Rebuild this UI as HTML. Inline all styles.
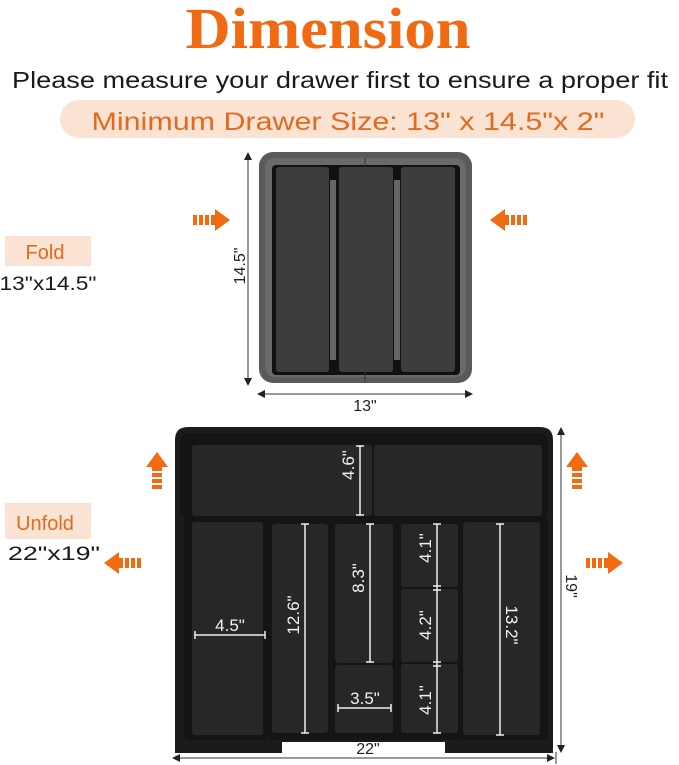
<!DOCTYPE html>
<html><head><meta charset="utf-8"><style>html,body{margin:0;padding:0;background:#fff}svg{display:block}</style></head>
<body>
<svg width="679" height="765" viewBox="0 0 679 765" xmlns="http://www.w3.org/2000/svg" font-family="Liberation Sans, sans-serif">
<defs>
<g id="ar">
<rect x="0" y="-5" width="4" height="10" fill="#f26b10"/>
<rect x="6" y="-5" width="4" height="10" fill="#f26b10"/>
<rect x="12" y="-5" width="4" height="10" fill="#f26b10"/>
<rect x="18" y="-5" width="6" height="10" fill="#f26b10"/>
<polygon points="22,-11 37,0 22,11" fill="#f26b10"/>
</g>
</defs>
<text x="328" y="48" text-anchor="middle" font-family="Liberation Serif, serif" font-weight="bold" font-size="58" fill="#f06a14" textLength="285" lengthAdjust="spacingAndGlyphs">Dimension</text>
<text x="340" y="88" text-anchor="middle" font-size="23" fill="#1a1a1a" textLength="656" lengthAdjust="spacingAndGlyphs">Please measure your drawer first to ensure a proper fit</text>
<rect x="60" y="100" width="575" height="38" rx="19" fill="#fbe3d3"/>
<text x="348" y="130" text-anchor="middle" font-size="25" fill="#e06a20" textLength="513" lengthAdjust="spacingAndGlyphs">Minimum Drawer Size: 13" x 14.5"x 2"</text>

<rect x="5" y="236" width="86" height="30" fill="#fbe3d3"/>
<text x="45" y="259" text-anchor="middle" font-size="20" fill="#e06a20">Fold</text>
<text x="48" y="290" text-anchor="middle" font-size="19" fill="#1a1a1a" textLength="97" lengthAdjust="spacingAndGlyphs">13"x14.5"</text>
<rect x="5" y="503" width="86" height="36" fill="#fbe3d3"/>
<text x="45" y="530" text-anchor="middle" font-size="20" fill="#e06a20">Unfold</text>
<text x="54" y="560" text-anchor="middle" font-size="19" fill="#1a1a1a" textLength="92" lengthAdjust="spacingAndGlyphs">22"x19"</text>

<use href="#ar" transform="translate(193,220)"/>
<use href="#ar" transform="translate(527,220) scale(-1,1)"/>
<use href="#ar" transform="translate(157,489) rotate(-90)"/>
<use href="#ar" transform="translate(577,489) rotate(-90)"/>
<use href="#ar" transform="translate(141,563) scale(-1,1)"/>
<use href="#ar" transform="translate(586,563)"/>

<!-- folded tray -->
<rect x="259" y="152" width="213" height="231" rx="14" fill="#5a5a5a"/>
<rect x="265" y="158" width="201" height="219" rx="10" fill="#6a6a6a"/>
<rect x="272" y="165" width="188" height="210" rx="4" fill="#111"/>
<rect x="276" y="167" width="53" height="205" rx="3" fill="#3d3d3d"/>
<rect x="339" y="167" width="54" height="205" rx="3" fill="#3d3d3d"/>
<rect x="401" y="167" width="54" height="205" rx="3" fill="#3d3d3d"/>
<rect x="330" y="180" width="6" height="180" fill="#666"/>
<rect x="394" y="180" width="6" height="180" fill="#666"/>
<line x1="365" y1="158" x2="365" y2="168" stroke="#333"/>
<line x1="365" y1="372" x2="365" y2="383" stroke="#333"/>
<line x1="248" y1="154" x2="248" y2="384" stroke="#333" stroke-width="1"/>
<polygon points="248,152 244,160 252,160" fill="#222"/>
<polygon points="248,386 244,378 252,378" fill="#222"/>
<text transform="translate(245,266) rotate(-90)" text-anchor="middle" font-size="16" fill="#222">14.5"</text>
<line x1="259" y1="394" x2="471" y2="394" stroke="#333"/>
<polygon points="257,394 265,390 265,398" fill="#222"/>
<polygon points="473,394 465,390 465,398" fill="#222"/>
<text x="365" y="411" text-anchor="middle" font-size="16" fill="#222">13"</text>

<!-- unfolded tray -->
<path d="M175,440 Q175,427 188,427 L540,427 Q553,427 553,440 L553,753 L445,753 L445,742 L282,742 L282,753 L175,753 Z" fill="#1b1b1b"/>
<rect x="180" y="433" width="368" height="85" rx="8" fill="#141414"/>
<rect x="192" y="445" width="180" height="71" rx="3" fill="#272727"/>
<rect x="374" y="445" width="168" height="71" rx="3" fill="#272727"/>
<rect x="184" y="517" width="84" height="223" rx="6" fill="#141414"/>
<rect x="192" y="522" width="71" height="213" rx="3" fill="#272727"/>
<rect x="268" y="518" width="196" height="222" rx="4" fill="#151515"/>
<rect x="272" y="524" width="56" height="209" rx="3" fill="#272727"/>
<rect x="335" y="524" width="58" height="139" rx="3" fill="#272727"/>
<rect x="335" y="665" width="58" height="68" rx="3" fill="#272727"/>
<rect x="401" y="524" width="57" height="63" rx="3" fill="#272727"/>
<rect x="401" y="589" width="57" height="73" rx="3" fill="#272727"/>
<rect x="401" y="664" width="57" height="69" rx="3" fill="#272727"/>
<rect x="460" y="517" width="88" height="223" rx="6" fill="#141414"/>
<rect x="463" y="522" width="77" height="213" rx="3" fill="#272727"/>

<g stroke="#eee" stroke-width="1.5" fill="none">
<line x1="360" y1="446" x2="360" y2="515"/><line x1="356" y1="446" x2="364" y2="446"/><line x1="356" y1="515" x2="364" y2="515"/>
<line x1="195" y1="635" x2="265" y2="635"/><line x1="195" y1="631" x2="195" y2="639"/><line x1="265" y1="631" x2="265" y2="639"/>
<line x1="305" y1="524" x2="305" y2="733"/><line x1="301" y1="524" x2="309" y2="524"/><line x1="301" y1="733" x2="309" y2="733"/>
<line x1="370" y1="524" x2="370" y2="662"/><line x1="366" y1="524" x2="374" y2="524"/><line x1="366" y1="662" x2="374" y2="662"/>
<line x1="338" y1="708" x2="391" y2="708"/><line x1="338" y1="704" x2="338" y2="712"/><line x1="391" y1="704" x2="391" y2="712"/>
<line x1="437" y1="524" x2="437" y2="733"/>
<line x1="433" y1="524" x2="441" y2="524"/><line x1="433" y1="586" x2="441" y2="586"/><line x1="433" y1="590" x2="441" y2="590"/><line x1="433" y1="662" x2="441" y2="662"/><line x1="433" y1="666" x2="441" y2="666"/><line x1="433" y1="733" x2="441" y2="733"/>
<line x1="500" y1="524" x2="500" y2="735"/><line x1="496" y1="524" x2="504" y2="524"/><line x1="496" y1="735" x2="504" y2="735"/>
</g>
<g fill="#f2f2f2" font-size="17" text-anchor="middle">
<text transform="translate(354,465) rotate(-90)">4.6"</text>
<text x="230" y="631">4.5"</text>
<text transform="translate(299,615) rotate(-90)">12.6"</text>
<text transform="translate(364,578) rotate(-90)">8.3"</text>
<text x="365" y="704">3.5"</text>
<text transform="translate(431,548) rotate(-90)">4.1"</text>
<text transform="translate(431,625) rotate(-90)">4.2"</text>
<text transform="translate(431,700) rotate(-90)">4.1"</text>
<text transform="translate(506,625) rotate(90)">13.2"</text>
</g>

<line x1="561" y1="429" x2="561" y2="751" stroke="#333"/>
<polygon points="561,427 557,435 565,435" fill="#222"/>
<polygon points="561,753 557,745 565,745" fill="#222"/>
<text transform="translate(566,586) rotate(90)" text-anchor="middle" font-size="16" fill="#222">19"</text>
<line x1="174" y1="758" x2="553" y2="758" stroke="#333"/>
<polygon points="172,758 180,754 180,762" fill="#222"/>
<polygon points="555,758 547,754 547,762" fill="#222"/>
<line x1="556" y1="752" x2="556" y2="764" stroke="#333"/>
<text x="368" y="754" text-anchor="middle" font-size="16" fill="#222">22"</text>
</svg>
</body></html>
